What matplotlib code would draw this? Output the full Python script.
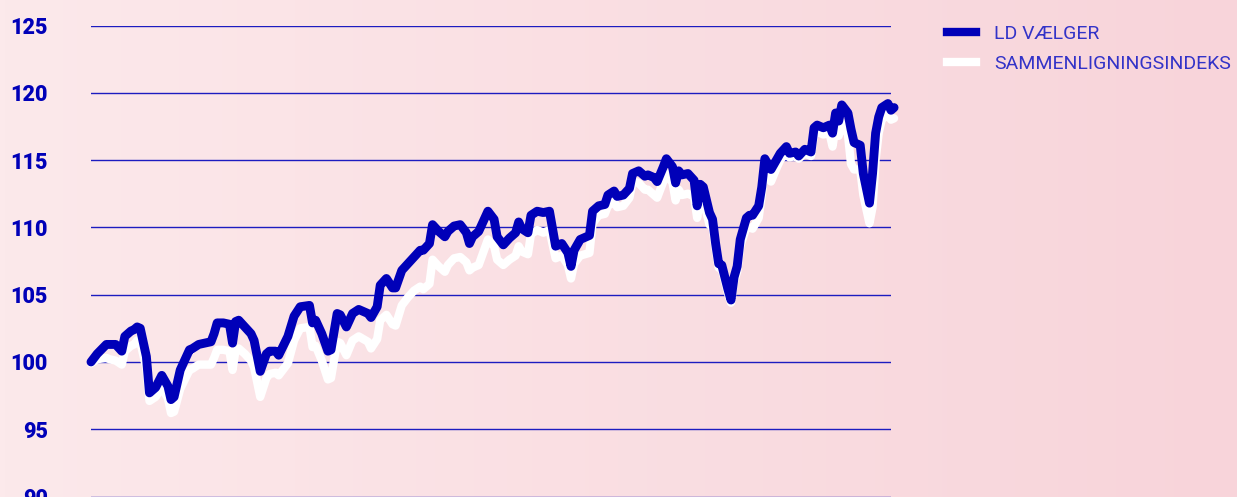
import numpy as np
import matplotlib
matplotlib.use("Agg")
import matplotlib.pyplot as plt
from matplotlib.lines import Line2D
from matplotlib.colors import LinearSegmentedColormap

# week number, LD Vælger index, comparison index
uge = [0, 2, 5, 6, 8, 10, 11, 13, 14, 15, 16, 18, 19, 21, 23, 25, 26, 27, 29, 32,
       33, 35, 37, 39, 40, 41, 43, 45, 46, 47, 48, 50, 52, 53, 55, 57, 58, 60, 61, 64,
       66, 68, 71, 72, 73, 75, 77, 78, 80, 81, 83, 85, 87, 90, 91, 93, 94, 96, 98, 99,
       101, 103, 105, 107, 108, 110, 111, 113, 115, 116, 118, 120, 122, 123, 124, 126, 129, 131, 132, 134,
       136, 138, 139, 140, 142, 143, 145, 147, 149, 151, 153, 155, 156, 157, 159, 162, 163, 165, 167, 168,
       170, 171, 173, 175, 176, 178, 180, 181, 183, 184, 186, 187, 189, 190, 191, 192, 194, 196, 197, 198,
       199, 201, 202, 203, 204, 205, 207, 208, 209, 210, 211, 213, 214, 215, 217, 218, 219, 221, 223, 224,
       226, 227, 229, 230, 232, 234, 235, 236, 238, 240, 241, 242, 243, 244, 246, 247, 248, 250, 251, 253,
       254, 255, 256, 257, 259, 260, 261]

ld_vaelger = [100.0, 100.6, 101.3, 101.3, 101.3, 100.8, 101.9, 102.3, 102.4, 102.6, 102.5, 100.4, 97.7, 98.1, 99.0, 98.2, 97.2, 97.4, 99.4, 100.9,
              101.0, 101.3, 101.4, 101.5, 102.1, 102.9, 102.9, 102.8, 101.4, 103.0, 103.1, 102.6, 102.1, 101.6, 99.3, 100.6, 100.8, 100.8, 100.5, 101.9,
              103.4, 104.1, 104.2, 102.9, 103.1, 102.1, 100.8, 100.9, 103.6, 103.5, 102.6, 103.6, 103.9, 103.6, 103.3, 104.1, 105.7, 106.2, 105.5, 105.5,
              106.8, 107.3, 107.8, 108.3, 108.3, 108.8, 110.2, 109.7, 109.3, 109.7, 110.1, 110.2, 109.6, 108.8, 109.3, 109.7, 111.2, 110.6, 109.3, 108.7,
              109.2, 109.6, 110.4, 109.9, 109.6, 110.9, 111.2, 111.1, 111.2, 108.6, 108.8, 108.1, 107.1, 108.3, 109.1, 109.4, 111.2, 111.6, 111.7, 112.4,
              112.7, 112.3, 112.4, 112.9, 114.0, 114.2, 113.8, 113.9, 113.7, 113.4, 114.5, 115.1, 114.5, 113.3, 114.2, 113.9, 114.0, 113.5, 111.6, 113.2,
              113.0, 111.1, 110.6, 108.8, 107.3, 107.2, 105.4, 104.6, 106.3, 107.1, 109.1, 110.7, 110.9, 110.9, 111.6, 113.0, 115.1, 114.3, 115.1, 115.5,
              116.0, 115.5, 115.6, 115.3, 115.8, 115.6, 117.4, 117.6, 117.4, 117.6, 117.0, 118.5, 117.9, 119.1, 118.5, 117.3, 116.3, 116.1, 114.0, 111.8,
              114.0, 117.0, 118.2, 118.9, 119.2, 118.7, 118.9]

sammenligning = [99.9, 100.2, 100.3, 100.2, 100.1, 99.8, 100.8, 101.2, 101.3, 101.6, 101.5, 99.5, 97.1, 97.4, 98.1, 97.3, 96.2, 96.3, 98.0, 99.4,
                 99.5, 99.8, 99.8, 99.8, 100.3, 100.9, 100.9, 100.8, 99.4, 100.9, 101.0, 100.6, 100.1, 99.6, 97.4, 98.8, 99.1, 99.2, 99.0, 99.9,
                 101.6, 102.5, 102.6, 101.1, 101.2, 100.1, 98.7, 98.8, 101.5, 101.4, 100.5, 101.6, 101.9, 101.5, 101.0, 101.7, 103.1, 103.5, 102.8, 102.7,
                 104.2, 104.8, 105.3, 105.6, 105.4, 105.8, 107.6, 107.1, 106.7, 107.2, 107.7, 107.8, 107.4, 106.8, 107.0, 107.2, 109.1, 108.6, 107.6, 107.2,
                 107.6, 107.9, 108.6, 108.2, 108.0, 109.5, 109.8, 109.6, 109.8, 107.7, 107.9, 107.2, 106.2, 107.3, 107.9, 108.1, 110.3, 110.9, 111.0, 111.6,
                 111.9, 111.5, 111.6, 112.2, 113.4, 113.3, 112.8, 112.8, 112.4, 112.2, 113.4, 114.0, 113.3, 112.0, 112.8, 112.4, 112.5, 112.3, 110.7, 112.2,
                 112.0, 110.2, 110.0, 108.4, 107.0, 106.9, 105.1, 104.4, 106.0, 106.7, 108.6, 110.0, 110.0, 109.9, 110.7, 112.4, 114.6, 113.4, 114.5, 115.0,
                 115.6, 115.2, 115.3, 115.1, 115.5, 115.3, 116.9, 117.1, 116.9, 117.0, 116.0, 117.5, 116.8, 117.8, 116.9, 114.7, 114.3, 114.3, 112.4, 110.3,
                 111.5, 115.0, 117.0, 118.0, 118.4, 118.0, 118.1]

yticks = [90, 95, 100, 105, 110, 115, 120, 125]
labels = ["LD VÆLGER", "SAMMENLIGNINGSINDEKS"]

blue = "#0000b8"

fig = plt.figure(figsize=(12.37, 4.97), dpi=100)

# pink gradient background
bg = fig.add_axes([0, 0, 1, 1], zorder=-10)
cmap = LinearSegmentedColormap.from_list("bg", ["#fce9eb", "#f8d4da"])
bg.imshow(np.linspace(0, 1, 256).reshape(1, -1), aspect="auto", cmap=cmap, extent=[0, 1, 0, 1])
bg.axis("off")

ax = fig.add_axes([91/1237, 0.5/497, 800/1237, 471/497])
ax.patch.set_alpha(0)
for y in yticks:
    ax.axhline(y, color="#1c1cc0", lw=1.0, zorder=1)

ax.plot(uge, sammenligning, color="white", lw=6.0, solid_capstyle="round",
        solid_joinstyle="round", clip_on=False, zorder=3)
ax.plot(uge, ld_vaelger, color=blue, lw=6.4, solid_capstyle="round",
        solid_joinstyle="round", clip_on=False, zorder=4)

ax.set_xlim(0, 260)
ax.set_ylim(90, 125)
ax.set_xticks([])
ax.set_yticks(yticks)
ax.tick_params(axis="y", length=0, pad=31)
for t in ax.get_yticklabels():
    t.set_fontfamily("Roboto")
    t.set_fontweight("heavy")
    t.set_fontsize(15.5)
    t.set_color(blue)
for s in ax.spines.values():
    s.set_visible(False)

handles = [Line2D([], [], color=blue, lw=6.0),
           Line2D([], [], color="white", lw=6.0)]
fig.legend(handles, labels, loc="upper left", bbox_to_anchor=(947/1237, 1 - 25/497),
           frameon=False, borderpad=0, borderaxespad=0, handlelength=1.5,
           handletextpad=0.93, labelspacing=0.62,
           prop={"family": "Roboto", "size": 14}, labelcolor="#3333c8")

fig.savefig("out.png", dpi=100)
